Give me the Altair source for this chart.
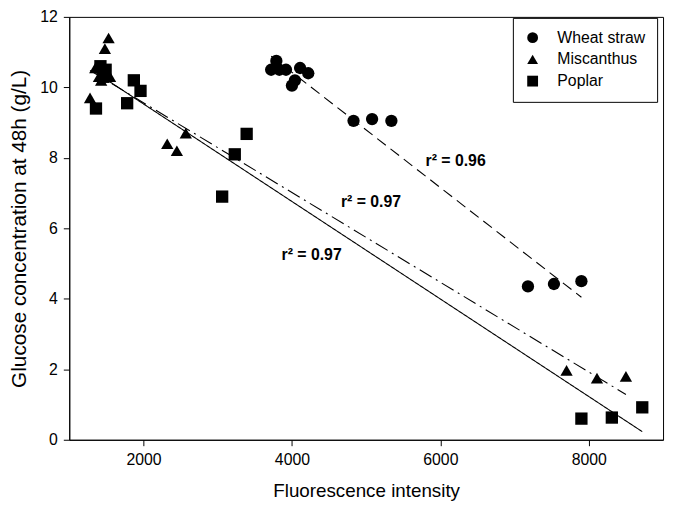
import altair as alt
import pandas as pd

# ---- data ----
series_names = ["Wheat straw", "Miscanthus", "Poplar"]

wheat_x = [3720, 3790, 3830, 3920, 4000, 4040, 4110, 4220, 4830, 5080, 5340, 7180, 7530, 7900]
wheat_y = [10.5, 10.75, 10.5, 10.5, 10.05, 10.2, 10.55, 10.4, 9.05, 9.1, 9.05, 4.35, 4.42, 4.5]

misc_x = [1280, 1350, 1400, 1430, 1480, 1530, 1550, 2320, 2450, 2570, 7700, 8110, 8500]
misc_y = [9.7, 10.55, 10.3, 10.2, 11.1, 11.4, 10.3, 8.4, 8.2, 8.7, 1.97, 1.75, 1.8]

pop_x = [1360, 1420, 1490, 1460, 1780, 1870, 1960, 3060, 3230, 3390, 7900, 8310, 8720]
pop_y = [9.4, 10.6, 10.5, 10.3, 9.55, 10.2, 9.9, 6.9, 8.1, 8.68, 0.6, 0.63, 0.92]

r2_labels = ["r\u00b2 = 0.96", "r\u00b2 = 0.97", "r\u00b2 = 0.97"]
r2_x = [5800, 4660, 3860]
r2_y = [7.9, 6.75, 5.25]

x_ticks = [2000, 4000, 6000, 8000]
y_ticks = [0, 2, 4, 6, 8, 10, 12]

# ---- tables ----
rows = []
for name, xs, ys in zip(series_names, [wheat_x, misc_x, pop_x], [wheat_y, misc_y, pop_y]):
    for xv, yv in zip(xs, ys):
        rows.append({"series": name, "x": xv, "y": yv})
df = pd.DataFrame(rows)
ann = pd.DataFrame({"x": r2_x, "y": r2_y, "label": r2_labels})

FONT = "Liberation Sans"

xscale = alt.Scale(domain=[1000, 9000], nice=False, zero=False)
yscale = alt.Scale(domain=[0, 12], nice=False)

xenc = alt.X("x:Q", scale=xscale,
             axis=alt.Axis(values=x_ticks, title="Fluorescence intensity", format="d"))
yenc = alt.Y("y:Q", scale=yscale,
             axis=alt.Axis(values=y_ticks, title="Glucose concentration at 48h (g/L)"))

points = alt.Chart(df).mark_point(filled=True, opacity=1, color="black", size=155).encode(
    x=xenc,
    y=yenc,
    shape=alt.Shape("series:N",
                    scale=alt.Scale(domain=series_names,
                                    range=["circle", "triangle-up", "square"]),
                    legend=alt.Legend(title=None, orient="none", legendX=449, legendY=1)),
)

dash_styles = [[11, 6], [14, 5, 2, 5], [1, 0]]
line_layers = []
for name, dash in zip(series_names, dash_styles):
    line_layers.append(
        alt.Chart(df).transform_filter(alt.datum.series == name)
        .transform_regression("x", "y")
        .mark_line(color="black", strokeWidth=1.1, strokeDash=dash)
        .encode(x=alt.X("x:Q", scale=xscale), y=alt.Y("y:Q", scale=yscale))
    )

labels = alt.Chart(ann).mark_text(align="left", baseline="middle", fontWeight="bold",
                                  fontSize=16, font=FONT, color="black").encode(
    x=alt.X("x:Q", scale=xscale),
    y=alt.Y("y:Q", scale=yscale),
    text="label:N",
)

chart = alt.layer(*line_layers, points, labels).properties(
    width=601, height=428,
    autosize=alt.AutoSizeParams(type="none"),
    padding={"left": 62, "top": 6, "right": 4, "bottom": 60},
).configure_view(
    stroke="black", strokeWidth=1
).configure_axis(
    grid=False, domainColor="black", tickColor="black", labelColor="black",
    titleColor="black", labelFont=FONT, titleFont=FONT, labelFontSize=16,
    titleFontSize=18, titleFontWeight="normal", tickSize=6, labelPadding=6,
    domainWidth=1, tickWidth=1
).configure_axisY(
    titlePadding=10, titleFontSize=21
).configure_axisX(
    titlePadding=14, titleFontSize=19
).configure_legend(
    strokeColor="black", fillColor="white", padding=12,
    labelFontSize=16, labelFont=FONT, labelColor="black",
    symbolSize=120, symbolFillColor="black", symbolStrokeColor="black",
    labelOffset=17, symbolOffset=0, rowPadding=5
)

chart.save("out.html", embed_options={"renderer": "svg", "actions": False})
